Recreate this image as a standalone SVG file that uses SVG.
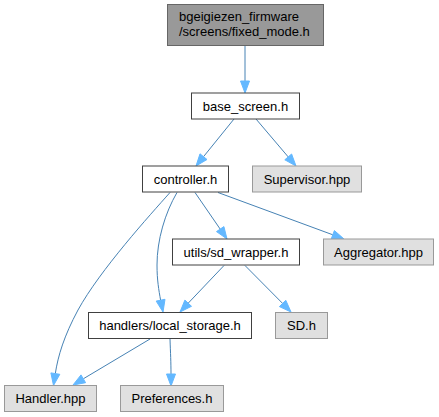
<svg xmlns="http://www.w3.org/2000/svg" width="439" height="417" viewBox="0 0 439 417">
<style>
  .bg { fill: #ffffff; }
  .main rect { fill: #999999; stroke: #666666; stroke-width: 1; }
  .node rect { fill: #ffffff; stroke: #404040; stroke-width: 1; }
  .ext rect { fill: #e0e0e0; stroke: #999999; stroke-width: 1; }
  text { font-family: "Liberation Sans", Arial, Helvetica, sans-serif; font-size: 13px; fill: #000000; }
  .c { text-anchor: middle; }
  .edges path { fill: none; stroke: #4682b4; stroke-width: 1; }
  .edges polygon { fill: #63b8ff; stroke: #63b8ff; stroke-width: 1; }
</style>
<rect class="bg" x="0" y="0" width="439" height="417"/>

<g id="connectors" class="edges">
  <path d="M245,45.5 V81"/>
  <polygon points="249.5,81 245,93 240.5,81"/>

  <path d="M234,119 L203.5,156.7"/>
  <polygon points="207,159.5 196,166 200,153.8"/>

  <path d="M256,119 L288.2,156.9"/>
  <polygon points="284.8,159.8 296,166 291.6,154"/>

  <path d="M170,192.5 C150,215 100,270 78,310 C64,336 58,356 55.3,373.6"/>
  <polygon points="59.8,374.3 53.5,385.5 50.9,372.9"/>

  <path d="M177,192.5 C165,213 157,240 157,265 C157,280 158.8,290 160.6,300.2"/>
  <polygon points="165,299.3 163,312 156.2,301.1"/>

  <path d="M195,192.5 L220.2,229.1"/>
  <polygon points="216.5,231.6 227,239 223.9,226.6"/>

  <path d="M218,192.5 L332.8,234.8"/>
  <polygon points="331.2,239 344,239 334.4,230.6"/>

  <path d="M224,265.5 L188.2,303.2"/>
  <polygon points="191.5,306.3 180,312 184.9,300.1"/>

  <path d="M245,265.5 L282.6,303.4"/>
  <polygon points="279.4,306.6 291,312 285.8,300.3"/>

  <path d="M150,339 L83.3,378.8"/>
  <polygon points="85.6,382.7 73,385 81,374.9"/>

  <path d="M170,339 C170.5,353 171,363 171,374"/>
  <polygon points="175.5,374 171,386 166.5,374"/>
</g>

<g id="node_fixed_mode" class="main">
  <rect x="167.5" y="4.5" width="156" height="41"/>
  <text x="179" y="21">bgeigiezen_firmware</text>
  <text x="179" y="36">/screens/fixed_mode.h</text>
</g>
<g id="node_base_screen" class="node">
  <rect x="191.5" y="93" width="108" height="26"/>
  <text class="c" x="245.5" y="110.5">base_screen.h</text>
</g>
<g id="node_controller" class="node">
  <rect x="142.5" y="166" width="86" height="26"/>
  <text class="c" x="185.5" y="183.5">controller.h</text>
</g>
<g id="node_supervisor" class="ext">
  <rect x="252.5" y="166" width="109" height="26"/>
  <text class="c" x="307" y="183.5">Supervisor.hpp</text>
</g>
<g id="node_sd_wrapper" class="node">
  <rect x="172.5" y="239" width="127" height="26"/>
  <text class="c" x="236" y="256.5">utils/sd_wrapper.h</text>
</g>
<g id="node_aggregator" class="ext">
  <rect x="323.5" y="239" width="110" height="26"/>
  <text class="c" x="378.5" y="256.5">Aggregator.hpp</text>
</g>
<g id="node_local_storage" class="node">
  <rect x="88.5" y="312.5" width="163" height="26"/>
  <text class="c" x="170" y="330">handlers/local_storage.h</text>
</g>
<g id="node_sd" class="ext">
  <rect x="275.5" y="312.5" width="52" height="26"/>
  <text class="c" x="301.5" y="330">SD.h</text>
</g>
<g id="node_handler" class="ext">
  <rect x="4.5" y="385.5" width="92" height="26"/>
  <text class="c" x="50.5" y="403">Handler.hpp</text>
</g>
<g id="node_preferences" class="ext">
  <rect x="120.5" y="385.5" width="103" height="26"/>
  <text class="c" x="172" y="403">Preferences.h</text>
</g>
</svg>
